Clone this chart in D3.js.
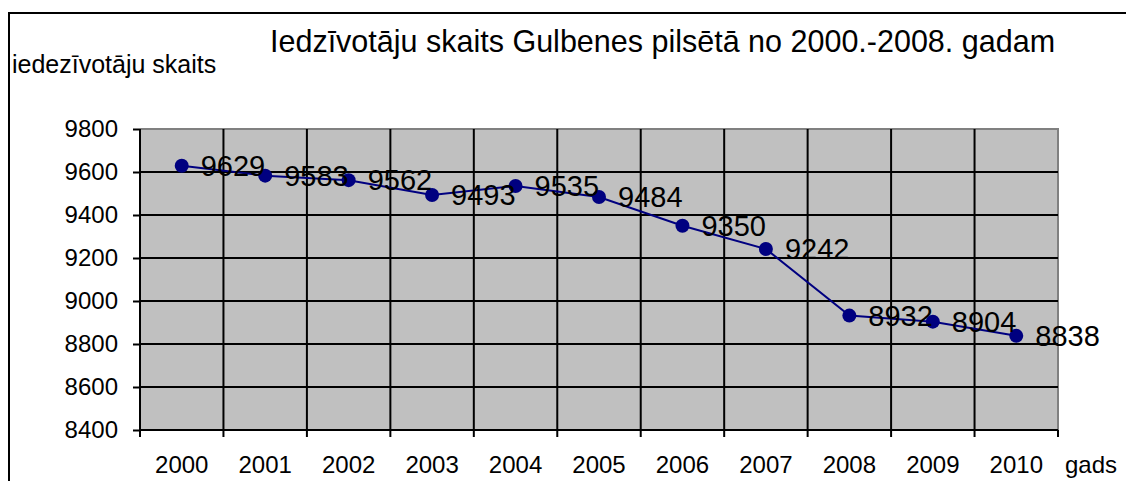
<!DOCTYPE html>
<html><head><meta charset="utf-8">
<script src="https://cdn.jsdelivr.net/npm/d3@7"></script>
<style>
html,body{margin:0;padding:0;background:#fff;}
svg{display:block;font-family:"Liberation Sans",Arial,sans-serif;}
</style></head>
<body>
<script>
const years = ["2000","2001","2002","2003","2004","2005","2006","2007","2008","2009","2010"];
const population = [9629,9583,9562,9493,9535,9484,9350,9242,8932,8904,8838];
const yTicks = [8400,8600,8800,9000,9200,9400,9600,9800];
const chartTitle = "Iedzīvotāju skaits Gulbenes pilsētā no 2000.-2008. gadam";
const yTitle = "iedezīvotāju skaits";
const xTitle = "gads";

const W = 1126, H = 481;
const svg = d3.select("body").append("svg").attr("width", W).attr("height", H);
svg.append("rect").attr("width", W).attr("height", H).attr("fill", "#fff");

// outer chart border (extends beyond visible area)
svg.append("rect").attr("x", 9).attr("y", 13).attr("width", 1300).attr("height", 600)
  .attr("fill", "none").attr("stroke", "#000").attr("stroke-width", 2);

const L = 140, R = 1058, T = 129, B = 430;
const x = d3.scaleBand().domain(years).range([L, R]).padding(0);
const y = d3.scaleLinear().domain([8400, 9800]).range([B, T]);

// plot area
svg.append("rect").attr("x", L).attr("y", T).attr("width", R - L).attr("height", B - T)
  .attr("fill", "#c0c0c0");
svg.append("path").attr("d", `M${L},${T}H${R}V${B}`).attr("fill", "none")
  .attr("stroke", "#808080").attr("stroke-width", 2);

// horizontal gridlines
svg.append("g").selectAll("line").data(yTicks.filter(v => v > 8400 && v < 9800)).join("line")
  .attr("x1", L).attr("x2", R).attr("y1", d => y(d)).attr("y2", d => y(d))
  .attr("stroke", "#000").attr("stroke-width", 2);
// vertical gridlines at category boundaries
svg.append("g").selectAll("line").data(years.slice(1)).join("line")
  .attr("x1", d => x(d)).attr("x2", d => x(d)).attr("y1", T).attr("y2", B)
  .attr("stroke", "#000").attr("stroke-width", 2);

// y axis
const yAxis = svg.append("g").attr("transform", `translate(${L},0)`)
  .call(d3.axisLeft(y).tickValues(yTicks).tickSize(7).tickPadding(15).tickFormat(d3.format("d")));
yAxis.select(".domain").attr("stroke", "#000").attr("stroke-width", 2).attr("d", `M0,${T}V${B}`);
yAxis.selectAll(".tick line").attr("stroke", "#000").attr("stroke-width", 2);
yAxis.selectAll("text").attr("font-size", 24).attr("fill", "#000")
  .attr("font-family", "Liberation Sans, Arial, sans-serif");

// x axis
const xAxis = svg.append("g").attr("transform", `translate(0,${B})`)
  .call(d3.axisBottom(x).tickSize(0).tickPadding(26));
xAxis.select(".domain").attr("stroke", "#000").attr("stroke-width", 2).attr("d", `M${L},0H${R}`);
xAxis.selectAll("text").attr("font-size", 24).attr("fill", "#000")
  .attr("font-family", "Liberation Sans, Arial, sans-serif");
const bounds = years.map(d => x(d)).concat([x(years[years.length - 1]) + x.bandwidth()]);
xAxis.append("g").selectAll("line").data(bounds).join("line")
  .attr("x1", d => d).attr("x2", d => d).attr("y1", 0).attr("y2", 7)
  .attr("stroke", "#000").attr("stroke-width", 2);

// series
const cx = d => x(d) + x.bandwidth() / 2;
const pts = years.map((yr, i) => ({yr, v: population[i]}));
svg.append("path").datum(pts)
  .attr("d", d3.line().x(d => cx(d.yr)).y(d => y(d.v)))
  .attr("fill", "none").attr("stroke", "#000080").attr("stroke-width", 2);
svg.append("g").selectAll("circle").data(pts).join("circle")
  .attr("cx", d => cx(d.yr)).attr("cy", d => y(d.v)).attr("r", 7).attr("fill", "#000080");
svg.append("g").selectAll("text").data(pts).join("text")
  .attr("x", d => cx(d.yr) + 19).attr("y", d => y(d.v)).attr("dy", "0.35em")
  .attr("font-size", 29).attr("fill", "#000").text(d => d.v);

// titles
svg.append("text").attr("x", 270).attr("y", 52).attr("font-size", 30.5).attr("fill", "#000").text(chartTitle);
svg.append("text").attr("x", 12).attr("y", 73).attr("font-size", 25).attr("fill", "#000").text(yTitle);
svg.append("text").attr("x", 1065).attr("y", 473).attr("font-size", 24).attr("fill", "#000").text(xTitle);
</script>
</body></html>
